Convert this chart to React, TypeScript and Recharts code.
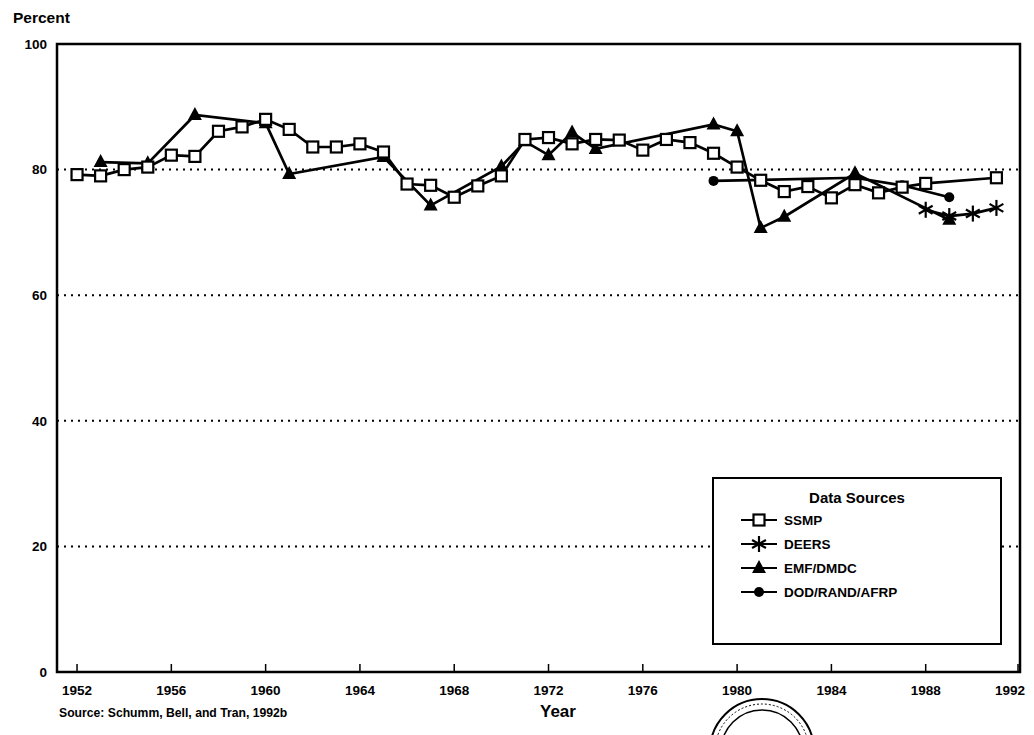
import React from "react";
import {
  CartesianGrid,
  Legend,
  Line,
  LineChart,
  ReferenceArea,
  XAxis,
  YAxis,
} from "recharts";

// years on the x axis, one row per year
const years = [
  1952, 1953, 1954, 1955, 1956, 1957, 1958, 1959, 1960, 1961,
  1962, 1963, 1964, 1965, 1966, 1967, 1968, 1969, 1970, 1971,
  1972, 1973, 1974, 1975, 1976, 1977, 1978, 1979, 1980, 1981,
  1982, 1983, 1984, 1985, 1986, 1987, 1988, 1989, 1990, 1991,
];

const ssmp = [
  79.2, 79.0, 80.0, 80.4, 82.3, 82.1, 86.1, 86.8, 88.0, 86.4,
  83.6, 83.6, 84.1, 82.8, 77.7, 77.5, 75.6, 77.4, 79.0, 84.8,
  85.1, 84.1, 84.8, 84.7, 83.1, 84.8, 84.3, 82.6, 80.4, 78.3,
  76.5, 77.3, 75.5, 77.6, 76.3, 77.2, 77.8, null, null, 78.7,
];

const deers = [
  null, null, null, null, null, null, null, null, null, null,
  null, null, null, null, null, null, null, null, null, null,
  null, null, null, null, null, null, null, null, null, null,
  null, null, null, null, null, null, 73.6, 72.6, 73.0, 73.9,
];

const emfDmdc = [
  null, 81.2, null, 81.0, null, 88.7, null, null, 87.4, 79.3,
  null, null, null, 82.0, null, 74.3, null, null, 80.5, 84.5,
  82.3, 85.9, 83.3, null, null, null, null, 87.2, 86.1, 70.7,
  72.5, null, null, 79.4, null, null, null, 72.0, null, null,
];

const dodRandAfrp = [
  null, null, null, null, null, null, null, null, null, null,
  null, null, null, null, null, null, null, null, null, null,
  null, null, null, null, null, null, null, 78.2, null, null,
  null, null, null, 78.7, null, 77.5, null, 75.6, null, null,
];

const xTicks = [1952, 1956, 1960, 1964, 1968, 1972, 1976, 1980, 1984, 1988, 1992];
const yTicks = [0, 20, 40, 60, 80, 100];

const data = years.map((year, i) => ({
  year,
  ssmp: ssmp[i],
  deers: deers[i],
  emf: emfDmdc[i],
  dod: dodRandAfrp[i],
}));

const font = "'Liberation Sans', Arial, sans-serif";
const xMin = 1951.15;
const xMax = 1992;
const plotBottom = 672;

function SquareDot(p: any) {
  if (p.cx == null || p.cy == null || p.value == null) return <g />;
  return (
    <rect x={p.cx - 5.5} y={p.cy - 5.5} width={11} height={11} fill="#fff" stroke="#000" strokeWidth={2.2} />
  );
}

function TriangleDot(p: any) {
  if (p.cx == null || p.cy == null || p.value == null) return <g />;
  const { cx, cy } = p;
  return <polygon points={`${cx},${cy - 8} ${cx - 7},${cy + 5} ${cx + 7},${cy + 5}`} fill="#000" />;
}

function CircleDot(p: any) {
  if (p.cx == null || p.cy == null || p.value == null) return <g />;
  return <circle cx={p.cx} cy={p.cy} r={5} fill="#000" />;
}

function StarDot(p: any) {
  if (p.cx == null || p.cy == null || p.value == null) return <g />;
  const { cx, cy } = p;
  const r = 8;
  const arms = [90, 30, 150].map((a) => {
    const dx = Math.cos((a * Math.PI) / 180) * r;
    const dy = Math.sin((a * Math.PI) / 180) * r;
    return <line key={a} x1={cx - dx} y1={cy - dy} x2={cx + dx} y2={cy + dy} stroke="#000" strokeWidth={2.2} />;
  });
  return <g>{arms}</g>;
}

// tick mark drawn inside the frame, label below it
function YearTick(p: any) {
  const { x, y, payload } = p;
  const last = payload.value >= 1992;
  return (
    <g>
      <line x1={x} y1={plotBottom} x2={x} y2={plotBottom - 8} stroke="#000" strokeWidth={1.5} />
      <text
        x={last ? x - 8 : x}
        y={y}
        dy="0.71em"
        textAnchor="middle"
        fill="#000"
        fontFamily={font}
        fontWeight={700}
        fontSize={13.5}
      >
        {payload.value}
      </text>
    </g>
  );
}

const legendItems = [
  { name: "SSMP", Dot: SquareDot },
  { name: "DEERS", Dot: StarDot },
  { name: "EMF/DMDC", Dot: TriangleDot },
  { name: "DOD/RAND/AFRP", Dot: CircleDot },
];

function SourcesLegend() {
  return (
    <div
      style={{
        width: 290,
        height: 168,
        boxSizing: "border-box",
        border: "2.5px solid #000",
        background: "#fff",
        fontFamily: font,
        color: "#000",
      }}
    >
      <div style={{ textAlign: "center", fontWeight: 700, fontSize: 15, marginTop: 10, marginBottom: 2 }}>
        Data Sources
      </div>
      {legendItems.map(({ name, Dot }) => (
        <div key={name} style={{ display: "flex", alignItems: "center", height: 24, paddingLeft: 26 }}>
          <svg width={38} height={20}>
            <line x1={1} y1={10} x2={37} y2={10} stroke="#000" strokeWidth={2.2} />
            <Dot cx={19} cy={10} value={1} />
          </svg>
          <span style={{ marginLeft: 6, fontSize: 13.5, fontWeight: 700 }}>{name}</span>
        </div>
      ))}
    </div>
  );
}

export default function App() {
  return (
    <div style={{ position: "absolute", left: 0, top: 0, width: 1034, height: 735, background: "#fff", overflow: "hidden" }}>
      <div style={{ position: "absolute", left: 13, top: 9, fontFamily: font, fontWeight: 700, fontSize: 15.5 }}>
        Percent
      </div>
      <LineChart
        width={1034}
        height={735}
        data={data}
        margin={{ top: 44, right: 14, bottom: 33, left: 17 }}
      >
        <CartesianGrid
          vertical={false}
          stroke="#000"
          strokeWidth={2}
          strokeDasharray="2 5"
        />
        <XAxis
          dataKey="year"
          type="number"
          domain={[xMin, xMax]}
          ticks={xTicks}
          allowDataOverflow
          height={30}
          axisLine={false}
          tickLine={false}
          tickSize={0}
          tickMargin={13}
          tick={<YearTick />}
        />
        <YAxis
          domain={[0, 100]}
          ticks={yTicks}
          width={40}
          axisLine={false}
          tickLine={false}
          tickSize={0}
          tickMargin={10}
          tick={{ fill: "#000", fontFamily: font, fontWeight: 700, fontSize: 13.5 }}
        />
        <ReferenceArea
          x1={xMin}
          x2={xMax}
          y1={0}
          y2={100}
          fill="none"
          stroke="#000"
          strokeWidth={2.5}
          ifOverflow="visible"
        />
        <Line dataKey="emf" name="EMF/DMDC" type="linear" stroke="#000" strokeWidth={2.7} connectNulls dot={<TriangleDot />} activeDot={false} isAnimationActive={false} />
        <Line dataKey="dod" name="DOD/RAND/AFRP" type="linear" stroke="#000" strokeWidth={2.7} connectNulls dot={<CircleDot />} activeDot={false} isAnimationActive={false} />
        <Line dataKey="deers" name="DEERS" type="linear" stroke="#000" strokeWidth={2.7} connectNulls dot={<StarDot />} activeDot={false} isAnimationActive={false} />
        <Line dataKey="ssmp" name="SSMP" type="linear" stroke="#000" strokeWidth={2.7} connectNulls dot={<SquareDot />} activeDot={false} isAnimationActive={false} />
        <Legend
          layout="vertical"
          align="center"
          verticalAlign="middle"
          content={<SourcesLegend />}
          wrapperStyle={{ left: 712, top: 477, width: 290, height: 168 }}
        />
      </LineChart>
      <div style={{ position: "absolute", left: 540, top: 702, fontFamily: font, fontWeight: 700, fontSize: 17 }}>
        Year
      </div>
      <div style={{ position: "absolute", left: 59, top: 706, fontFamily: font, fontWeight: 700, fontSize: 12.2 }}>
        Source: Schumm, Bell, and Tran, 1992b
      </div>
      <svg style={{ position: "absolute", left: 700, top: 690 }} width={130} height={45}>
        <circle cx={62} cy={61} r={52} fill="none" stroke="#000" strokeWidth={2} />
        <circle cx={62} cy={61} r={47} fill="none" stroke="#000" strokeWidth={1} strokeDasharray="2 2" />
        <circle cx={62} cy={61} r={41} fill="none" stroke="#000" strokeWidth={1.5} />
      </svg>
    </div>
  );
}
